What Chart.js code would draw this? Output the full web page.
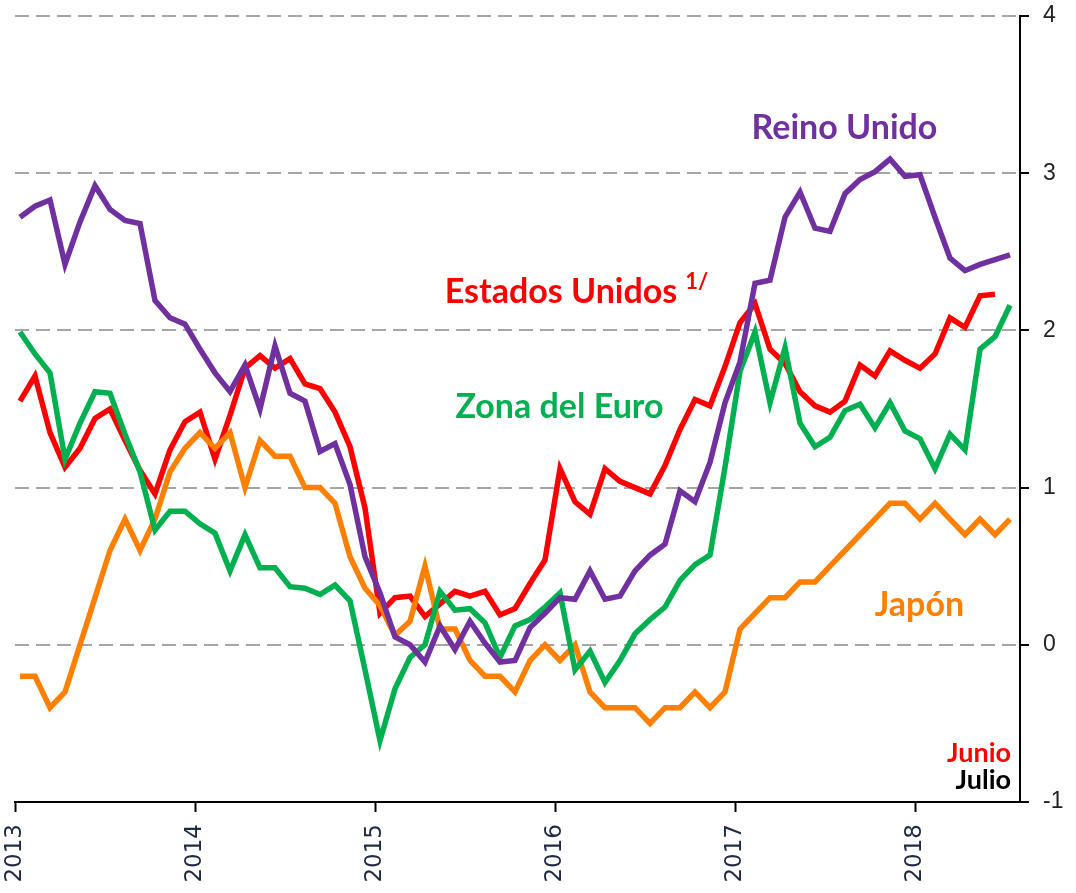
<!DOCTYPE html>
<html>
<head>
<meta charset="utf-8">
<script src="https://cdn.jsdelivr.net/npm/chart.js@4"></script>
<style>
  html, body { margin: 0; padding: 0; background: #fff; }
  #wrap { width: 1076px; height: 893px; position: relative; }
</style>
</head>
<body>
<div id="wrap"><canvas id="chart"></canvas></div>
<script>
// monthly series, Jan 2013 .. Jul 2018 (US ends June)
const yearLabels = ['2013', '2014', '2015', '2016', '2017', '2018'];
const yTicks = [-1, 0, 1, 2, 3, 4];

const reinoUnido = [
  2.72, 2.79, 2.83, 2.42, 2.69, 2.92, 2.77, 2.70, 2.68, 2.19, 2.08, 2.04,
  1.88, 1.73, 1.61, 1.78, 1.50, 1.90, 1.60, 1.55, 1.23, 1.28, 1.02, 0.56,
  0.33, 0.05, 0.00, -0.11, 0.12, -0.03, 0.15, 0.01, -0.11, -0.10, 0.11, 0.20,
  0.30, 0.29, 0.47, 0.29, 0.31, 0.47, 0.57, 0.64, 0.98, 0.91, 1.16, 1.54,
  1.80, 2.30, 2.32, 2.72, 2.88, 2.65, 2.63, 2.87, 2.96, 3.01, 3.09, 2.98,
  2.99, 2.72, 2.46, 2.38, 2.42, 2.45, 2.48
];
const estadosUnidos = [
  1.55, 1.71, 1.35, 1.13, 1.25, 1.44, 1.50, 1.30, 1.11, 0.96, 1.24, 1.42,
  1.48, 1.18, 1.46, 1.76, 1.84, 1.76, 1.82, 1.66, 1.63, 1.48, 1.26, 0.87,
  0.20, 0.30, 0.31, 0.18, 0.26, 0.34, 0.31, 0.34, 0.19, 0.23, 0.39, 0.54,
  1.12, 0.91, 0.83, 1.12, 1.04, 1.00, 0.96, 1.14, 1.37, 1.56, 1.52, 1.77,
  2.05, 2.17, 1.88, 1.79, 1.61, 1.52, 1.48, 1.55, 1.78, 1.71, 1.87, 1.81,
  1.76, 1.85, 2.08, 2.02, 2.22, 2.23
];
const zonaEuro = [
  1.99, 1.85, 1.73, 1.18, 1.41, 1.61, 1.60, 1.34, 1.10, 0.73, 0.85, 0.85,
  0.77, 0.71, 0.47, 0.70, 0.49, 0.49, 0.37, 0.36, 0.32, 0.38, 0.28, -0.16,
  -0.61, -0.28, -0.08, 0.00, 0.34, 0.22, 0.23, 0.14, -0.08, 0.12, 0.16, 0.24,
  0.33, -0.16, -0.04, -0.24, -0.10, 0.07, 0.16, 0.24, 0.41, 0.51, 0.57, 1.13,
  1.74, 1.99, 1.54, 1.89, 1.41, 1.26, 1.32, 1.49, 1.53, 1.38, 1.54, 1.36,
  1.31, 1.12, 1.34, 1.24, 1.88, 1.96, 2.16
];
const japon = [
  -0.2, -0.2, -0.4, -0.3, 0.0, 0.3, 0.6, 0.8, 0.6, 0.8, 1.1, 1.25,
  1.35, 1.25, 1.35, 1.0, 1.3, 1.2, 1.2, 1.0, 1.0, 0.9, 0.56, 0.36,
  0.25, 0.06, 0.15, 0.5, 0.1, 0.1, -0.1, -0.2, -0.2, -0.3, -0.1, 0.0,
  -0.1, 0.0, -0.3, -0.4, -0.4, -0.4, -0.5, -0.4, -0.4, -0.3, -0.4, -0.3,
  0.1, 0.2, 0.3, 0.3, 0.4, 0.4, 0.5, 0.6, 0.7, 0.8, 0.9, 0.9,
  0.8, 0.9, 0.8, 0.7, 0.8, 0.7, 0.8
];

const MONTH_SHIFT = 1 / 3; // points sit a little after the year tick
const toPoints = arr => arr.map((v, i) => ({ x: i + MONTH_SHIFT, y: v }));

const labelFont = "Lato, 'Open Sans', sans-serif";
const notes = [
  { text: 'Reino Unido', x: 55.3, y: 3.29, color: '#7030A0', size: 34, align: 'center' },
  { text: 'Estados Unidos', x: 36.4, y: 2.245, color: '#FF0000', size: 34, align: 'center', sup: '1/' },
  { text: 'Zona del Euro', x: 36.3, y: 1.51, color: '#00B050', size: 34, align: 'center' },
  { text: 'Japón', x: 60.3, y: 0.25, color: '#FF7F00', size: 34, align: 'center' },
  { text: 'Junio', x: 66.4, y: -0.69, color: '#FF0000', size: 27, align: 'right' },
  { text: 'Julio', x: 66.4, y: -0.86, color: '#000000', size: 27, align: 'right' }
];

const notesPlugin = {
  id: 'notes',
  afterDatasetsDraw: function(chart) {
    const ctx = chart.ctx;
    const xs = chart.scales.x, ys = chart.scales.y;
    ctx.save();
    ctx.textBaseline = 'middle';
    notes.forEach(n => {
      const px = xs.getPixelForValue(n.x);
      const py = ys.getPixelForValue(n.y);
      ctx.font = 'bold ' + n.size + 'px ' + labelFont;
      ctx.fillStyle = n.color;
      ctx.textAlign = n.align;
      ctx.fillText(n.text, px, py);
      if (n.sup) {
        const w = ctx.measureText(n.text).width;
        const right = n.align === 'center' ? px + w / 2 : px + w;
        ctx.font = 'bold ' + Math.round(n.size * 0.65) + 'px ' + labelFont;
        ctx.textAlign = 'left';
        ctx.fillText(n.sup, right + 8, py - n.size * 0.3);
      }
    });
    ctx.restore();
  }
};

const line = (data, color) => ({
  data: toPoints(data),
  borderColor: color,
  backgroundColor: color,
  borderWidth: 5.5,
  pointRadius: 0,
  tension: 0,
  fill: false
});

new Chart(document.getElementById('chart'), {
  type: 'line',
  data: {
    datasets: [
      line(reinoUnido, '#7030A0'),
      line(zonaEuro, '#00B050'),
      line(japon, '#FF7F00'),
      line(estadosUnidos, '#FF0000')
    ]
  },
  options: {
    responsive: true,
    maintainAspectRatio: false,
    animation: false,
    layout: { padding: 0 },
    plugins: { legend: { display: false }, tooltip: { enabled: false } },
    scales: {
      x: {
        type: 'linear',
        min: 0,
        max: 67,
        afterBuildTicks: s => { s.ticks = yearLabels.map((l, i) => ({ value: i * 12 })); },
        afterFit: s => {
          s.height = 91;
          s.paddingLeft = 15;
          s.paddingRight = 0;
        },
        grid: { drawOnChartArea: false, drawTicks: true, tickLength: 10, tickColor: '#000', tickWidth: 2 },
        border: { color: '#000', width: 2 },
        ticks: {
          minRotation: 90,
          maxRotation: 90,
          padding: 12,
          color: '#1F2A44',
          font: { family: "'DejaVu Sans'", size: 23 },
          callback: (v, i) => yearLabels[i]
        }
      },
      y: {
        position: 'right',
        min: -1,
        max: 4,
        afterBuildTicks: s => { s.ticks = yTicks.map(v => ({ value: v })); },
        afterFit: s => {
          s.width = 56;
          s.paddingTop = 16;
          s.paddingBottom = 0;
        },
        grid: {
          color: c => (c.tick && c.tick.value === -1) ? 'rgba(0,0,0,0)' : '#A6A6A6',
          lineWidth: 2,
          drawTicks: true,
          tickLength: 9,
          tickColor: '#000',
          tickWidth: 2,
          tickBorderDash: []
        },
        border: { color: '#000', width: 2, dash: [14, 7] },
        ticks: {
          padding: 14,
          color: '#222',
          font: { family: "'Liberation Sans'", size: 23 }
        }
      }
    }
  },
  plugins: [notesPlugin]
});
</script>
</body>
</html>
